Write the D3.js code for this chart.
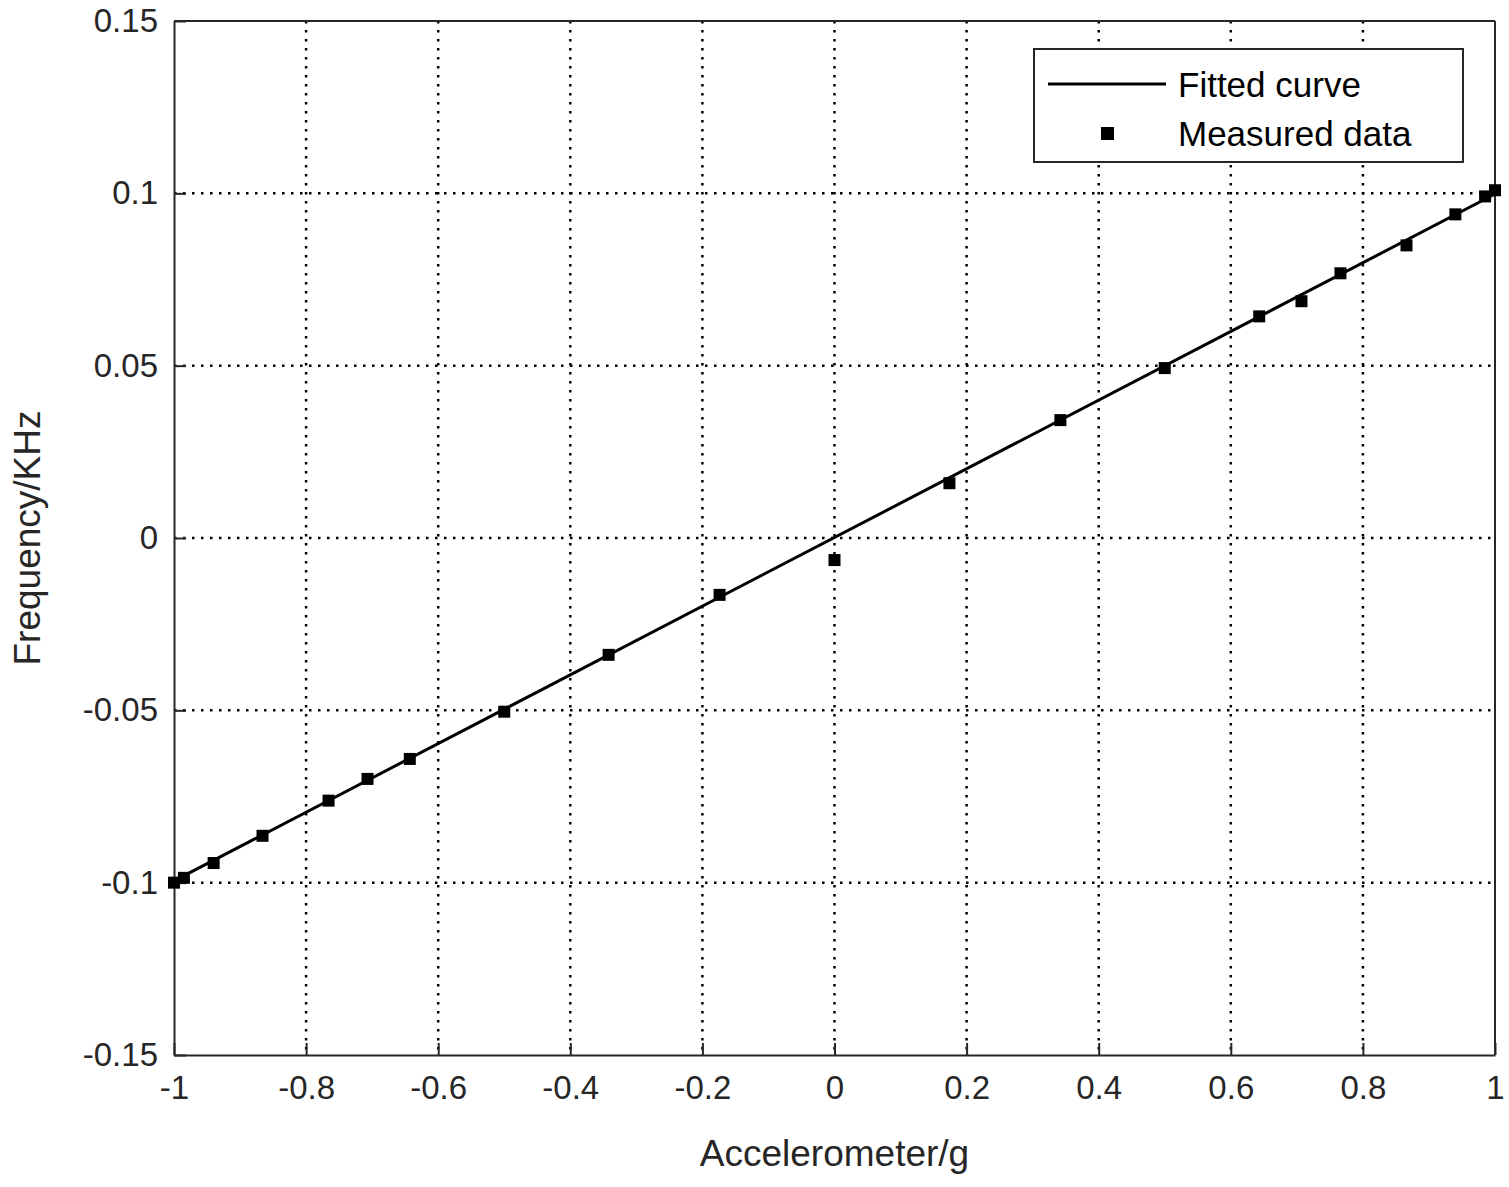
<!DOCTYPE html>
<html><head><meta charset="utf-8">
<script src="https://cdn.jsdelivr.net/npm/d3@7"></script>
<style>body{margin:0;background:#fff}text{font-family:"Liberation Sans",Arial,sans-serif}</style>
</head><body><svg id="c" width="1509" height="1187"></svg>
<script>
const xData = [-1, -0.985, -0.94, -0.866, -0.766, -0.707, -0.643, -0.5, -0.342, -0.174, 0,
  0.174, 0.342, 0.5, 0.643, 0.707, 0.766, 0.866, 0.94, 0.985, 1];
const yData = [-0.1, -0.0986, -0.0943, -0.0864, -0.0762, -0.0699, -0.0641, -0.0504, -0.0339, -0.0165, -0.0064,
  0.0159, 0.0342, 0.0493, 0.0643, 0.0687, 0.0768, 0.0849, 0.0939, 0.0991, 0.1009];
const fitX = [-1, 1];
const fitY = [-0.0995, 0.0998];
const xTicks = [-1, -0.8, -0.6, -0.4, -0.2, 0, 0.2, 0.4, 0.6, 0.8, 1];
const yTicks = [-0.15, -0.1, -0.05, 0, 0.05, 0.1, 0.15];

const M = {left: 174, right: 1495, top: 21, bottom: 1055};
const svg = d3.select('#c');
const x = d3.scaleLinear().domain([-1, 1]).range([M.left, M.right]);
const y = d3.scaleLinear().domain([-0.15, 0.15]).range([M.bottom, M.top]);
const fmt = d => String(d);

// grid
svg.append('g').selectAll('line').data(xTicks.slice(1, -1)).join('line')
  .attr('x1', d => x(d)).attr('x2', d => x(d)).attr('y1', M.top).attr('y2', M.bottom)
  .attr('stroke', '#000').attr('stroke-width', 2.5).attr('stroke-dasharray', '2.5,6.5');
svg.append('g').selectAll('line').data(yTicks.slice(1, -1)).join('line')
  .attr('y1', d => y(d)).attr('y2', d => y(d)).attr('x1', M.left).attr('x2', M.right)
  .attr('stroke', '#000').attr('stroke-width', 2.5).attr('stroke-dasharray', '2.5,6.5');

// axes
const xa = svg.append('g').attr('transform', `translate(0,${M.bottom})`)
  .call(d3.axisBottom(x).tickValues(xTicks).tickFormat(fmt).tickSize(-12).tickSizeOuter(0));
const ya = svg.append('g').attr('transform', `translate(${M.left},0)`)
  .call(d3.axisLeft(y).tickValues(yTicks).tickFormat(fmt).tickSize(-12).tickSizeOuter(0));
[xa, ya].forEach(a => {
  a.select('.domain').attr('stroke', '#262626').attr('stroke-width', 2);
  a.selectAll('.tick line').attr('stroke', '#262626').attr('stroke-width', 2);
  a.selectAll('text').attr('font-size', 33).attr('fill', '#262626');
});
xa.selectAll('text').attr('y', 14).attr('dy', '0.9em');
ya.selectAll('text').attr('x', -16);
svg.append('line').attr('x1', M.left).attr('x2', M.right).attr('y1', M.top).attr('y2', M.top)
  .attr('stroke', '#262626').attr('stroke-width', 2);
svg.append('line').attr('x1', M.right).attr('x2', M.right).attr('y1', M.top).attr('y2', M.bottom)
  .attr('stroke', '#262626').attr('stroke-width', 2);

svg.append('text').attr('x', (M.left + M.right) / 2).attr('y', 1166).attr('text-anchor', 'middle')
  .attr('font-size', 37).attr('fill', '#262626').text('Accelerometer/g');
svg.append('text').attr('transform', `translate(40,${(M.top + M.bottom) / 2}) rotate(-90)`)
  .attr('text-anchor', 'middle').attr('font-size', 37).attr('fill', '#262626').text('Frequency/KHz');

// fitted line
svg.append('path').datum(fitX.map((v, i) => [v, fitY[i]]))
  .attr('d', d3.line().x(d => x(d[0])).y(d => y(d[1])))
  .attr('fill', 'none').attr('stroke', '#000').attr('stroke-width', 3);

// points
svg.append('g').selectAll('rect').data(xData.map((v, i) => [v, yData[i]])).join('rect')
  .attr('x', d => x(d[0]) - 6).attr('y', d => y(d[1]) - 6).attr('width', 12).attr('height', 12)
  .attr('fill', '#000');

// legend
const lg = svg.append('g');
lg.append('rect').attr('x', 1034).attr('y', 49).attr('width', 429).attr('height', 113)
  .attr('fill', '#fff').attr('stroke', '#262626').attr('stroke-width', 2);
lg.append('line').attr('x1', 1048).attr('x2', 1166).attr('y1', 84).attr('y2', 84)
  .attr('stroke', '#000').attr('stroke-width', 3);
lg.append('rect').attr('x', 1101).attr('y', 127).attr('width', 13).attr('height', 13).attr('fill', '#000');
lg.append('text').attr('x', 1178).attr('y', 97).attr('font-size', 35).attr('fill', '#000').text('Fitted curve');
lg.append('text').attr('x', 1178).attr('y', 146).attr('font-size', 35).attr('fill', '#000').text('Measured data');
</script></body></html>
